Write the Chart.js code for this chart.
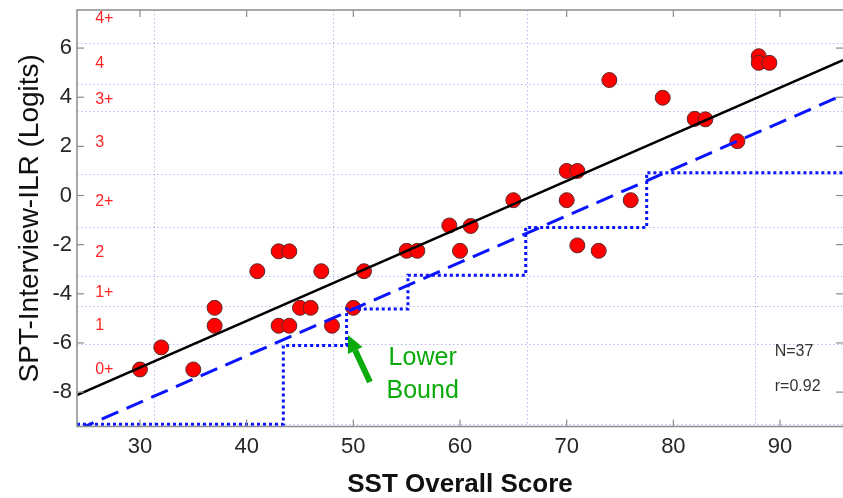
<!DOCTYPE html>
<html>
<head>
<meta charset="utf-8">
<script src="https://cdn.jsdelivr.net/npm/chart.js@4.4.1/dist/chart.umd.min.js"></script>
<style>
html,body{margin:0;padding:0;background:#fff;overflow:hidden;}
canvas{display:block;}
</style>
</head>
<body>
<canvas id="c" width="843" height="498"></canvas>
<script>
// ---- data ----
const sstScore = [30,32,35,37,37,41,43,43,44,44,45,46,47,48,50,51,55,56,59,60,61,65,70,70,71,71,73,74,76,79,82,83,86,88,88,89];
const sptLogit = [-7.08,-6.18,-7.08,-4.57,-5.3,-3.08,-2.27,-5.3,-2.27,-5.3,-4.57,-4.57,-3.08,-5.3,-4.57,-3.08,-2.25,-2.25,-1.22,-2.25,-1.24,-0.19,1.0,-0.19,1.0,-2.03,-2.25,4.70,-0.19,3.98,3.12,3.1,2.21,5.67,5.4,5.4];

const fitX = [24.1, 95.9];
const fitY = [-8.12, 5.51];
const boundX = [24.1, 95.9];
const boundY = [-9.54, 4.09];

const stepX = [24.1, 43.44, 49.37, 55.12, 66.16, 77.5, 95.9];
const stepY = [-9.31, -6.1, -4.62, -3.24, -1.3, 0.93, 0.93];

const xTickValues = [30,40,50,60,70,80,90];
const yTickValues = [-8,-6,-4,-2,0,2,4,6];

const gridXValues = [31.3, 48.1, 66.25, 87.65];
const gridYValues = [-9.31, -6.05, -4.5, -3.27, -1.28, 0.88, 3.45, 4.55, 6.2];

const ilrLabels = ['4+','4','3+','3','2+','2','1+','1','0+'];
const ilrLabelY = [7.18, 5.35, 3.92, 2.15, -0.23, -2.34, -3.95, -5.31, -7.08];

const statLines = ['N=37', 'r=0.92'];
const noteLines = ['Lower', 'Bound'];

const toPts = (xs, ys) => xs.map((x, i) => ({x: x, y: ys[i]}));

const decor = {
  id: 'decor',
  beforeDatasetsDraw(chart) {
    const {ctx, chartArea: a, scales: {x, y}} = chart;
    ctx.save();
    ctx.beginPath();
    ctx.rect(a.left, a.top, a.right - a.left, a.bottom - a.top);
    ctx.clip();
    ctx.strokeStyle = '#b9b9f2';
    ctx.lineWidth = 1;
    ctx.setLineDash([1.5, 2.5]);
    gridXValues.forEach(v => {
      const px = Math.round(x.getPixelForValue(v)) + 0.5;
      ctx.beginPath(); ctx.moveTo(px, a.top); ctx.lineTo(px, a.bottom); ctx.stroke();
    });
    gridYValues.forEach(v => {
      const py = Math.round(y.getPixelForValue(v)) + 0.5;
      ctx.beginPath(); ctx.moveTo(a.left, py); ctx.lineTo(a.right, py); ctx.stroke();
    });
    ctx.restore();
  },
  afterDatasetsDraw(chart) {
    const {ctx, chartArea: a, scales: {x, y}} = chart;
    ctx.save();
    // frame
    ctx.strokeStyle = '#8c8c8c';
    ctx.lineWidth = 1.5;
    ctx.setLineDash([]);
    ctx.beginPath();
    ctx.moveTo(a.right, a.top); ctx.lineTo(a.left, a.top);
    ctx.lineTo(a.left, a.bottom); ctx.lineTo(a.right, a.bottom);
    ctx.stroke();
    // inward ticks
    ctx.lineWidth = 1.2;
    const tl = 7;
    xTickValues.forEach(v => {
      const px = x.getPixelForValue(v);
      ctx.beginPath(); ctx.moveTo(px, a.bottom); ctx.lineTo(px, a.bottom - tl); ctx.stroke();
      ctx.beginPath(); ctx.moveTo(px, a.top); ctx.lineTo(px, a.top + tl); ctx.stroke();
    });
    yTickValues.forEach(v => {
      const py = y.getPixelForValue(v);
      ctx.beginPath(); ctx.moveTo(a.left, py); ctx.lineTo(a.left + tl, py); ctx.stroke();
      ctx.beginPath(); ctx.moveTo(a.right, py); ctx.lineTo(a.right - tl, py); ctx.stroke();
    });
    // ILR level labels
    ctx.fillStyle = '#ff2424';
    ctx.font = '16px "Liberation Sans", Arial, sans-serif';
    ctx.textAlign = 'left';
    ctx.textBaseline = 'middle';
    const lx = x.getPixelForValue(25.8);
    ilrLabels.forEach((t, i) => ctx.fillText(t, lx, y.getPixelForValue(ilrLabelY[i])));
    // N / r
    ctx.fillStyle = '#333333';
    ctx.font = '16px "Liberation Sans", Arial, sans-serif';
    ctx.fillText(statLines[0], x.getPixelForValue(89.5), y.getPixelForValue(-6.37));
    ctx.fillText(statLines[1], x.getPixelForValue(89.5), y.getPixelForValue(-7.76));
    // Lower Bound note
    ctx.fillStyle = '#0aaa0a';
    ctx.font = '25px "Liberation Sans", Arial, sans-serif';
    ctx.textAlign = 'center';
    ctx.fillText(noteLines[0], x.getPixelForValue(56.5), y.getPixelForValue(-6.62));
    ctx.fillText(noteLines[1], x.getPixelForValue(56.5), y.getPixelForValue(-7.96));
    // arrow
    const tx = x.getPixelForValue(51.56), ty = y.getPixelForValue(-7.59);
    const hx = x.getPixelForValue(49.5), hy = y.getPixelForValue(-5.68);
    const ang = Math.atan2(hy - ty, hx - tx);
    const hl = 17, hw = 8;
    const bx = hx - hl * Math.cos(ang), by = hy - hl * Math.sin(ang);
    ctx.strokeStyle = '#0aaa0a';
    ctx.fillStyle = '#0aaa0a';
    ctx.lineWidth = 6;
    ctx.lineCap = 'butt';
    ctx.beginPath(); ctx.moveTo(tx, ty); ctx.lineTo(bx, by); ctx.stroke();
    ctx.beginPath();
    ctx.moveTo(hx, hy);
    ctx.lineTo(bx + hw * Math.sin(ang), by - hw * Math.cos(ang));
    ctx.lineTo(bx - hw * Math.sin(ang), by + hw * Math.cos(ang));
    ctx.closePath(); ctx.fill();
    ctx.restore();
  }
};

new Chart(document.getElementById('c'), {
  type: 'scatter',
  data: {
    datasets: [
      {
        label: 'Regression',
        type: 'line',
        data: toPts(fitX, fitY),
        borderColor: '#000000',
        borderWidth: 2.6,
        pointRadius: 0,
        fill: false,
        order: 1
      },
      {
        label: 'Bound line',
        type: 'line',
        data: toPts(boundX, boundY),
        borderColor: '#0a14ff',
        borderWidth: 3,
        borderDash: [18, 9],
        pointRadius: 0,
        fill: false,
        order: 1
      },
      {
        label: 'Lower bound',
        type: 'line',
        data: toPts(stepX, stepY),
        stepped: 'before',
        borderColor: '#0a14ff',
        borderWidth: 3,
        borderDash: [3, 3],
        pointRadius: 0,
        fill: false,
        order: 2
      },
      {
        label: 'Examinees',
        data: toPts(sstScore, sptLogit),
        backgroundColor: '#ff0000',
        borderColor: '#5a2a2a',
        borderWidth: 1,
        pointRadius: 7.5,
        pointHoverRadius: 7.5,
        order: 3
      }
    ]
  },
  options: {
    responsive: false,
    animation: false,
    devicePixelRatio: 1,
    layout: { autoPadding: false, padding: { top: 10, right: 0, left: 0, bottom: 0 } },
    plugins: { legend: { display: false }, tooltip: { enabled: false } },
    events: [],
    scales: {
      x: {
        type: 'linear',
        min: 24.1,
        max: 95.9,
        afterFit(s) { s.height = 71.5; s.paddingLeft = 0; s.paddingRight = 0; },
        afterBuildTicks(s) { s.ticks = xTickValues.map(v => ({ value: v })); },
        grid: { display: false, drawTicks: false },
        border: { display: false },
        ticks: {
          font: { family: '"Liberation Sans", Arial, sans-serif', size: 22 },
          color: '#262626',
          padding: 7
        },
        title: {
          display: true,
          text: 'SST Overall Score',
          font: { family: '"Liberation Sans", Arial, sans-serif', size: 26, weight: 'bold', lineHeight: 1 },
          color: '#111111',
          padding: { top: 0, bottom: 0 }
        }
      },
      y: {
        type: 'linear',
        min: -9.4,
        max: 7.55,
        afterFit(s) { s.width = 77; s.paddingTop = 0; s.paddingBottom = 0; },
        afterBuildTicks(s) { s.ticks = yTickValues.map(v => ({ value: v })); },
        grid: { display: false, drawTicks: false },
        border: { display: false },
        ticks: {
          font: { family: '"Liberation Sans", Arial, sans-serif', size: 22 },
          color: '#262626',
          padding: 5
        },
        title: {
          display: true,
          text: 'SPT-Interview-ILR (Logits)',
          font: { family: '"Liberation Sans", Arial, sans-serif', size: 28, lineHeight: 1 },
          color: '#111111',
          padding: { top: 16, bottom: 0 }
        }
      }
    }
  },
  plugins: [decor]
});
</script>
</body>
</html>
